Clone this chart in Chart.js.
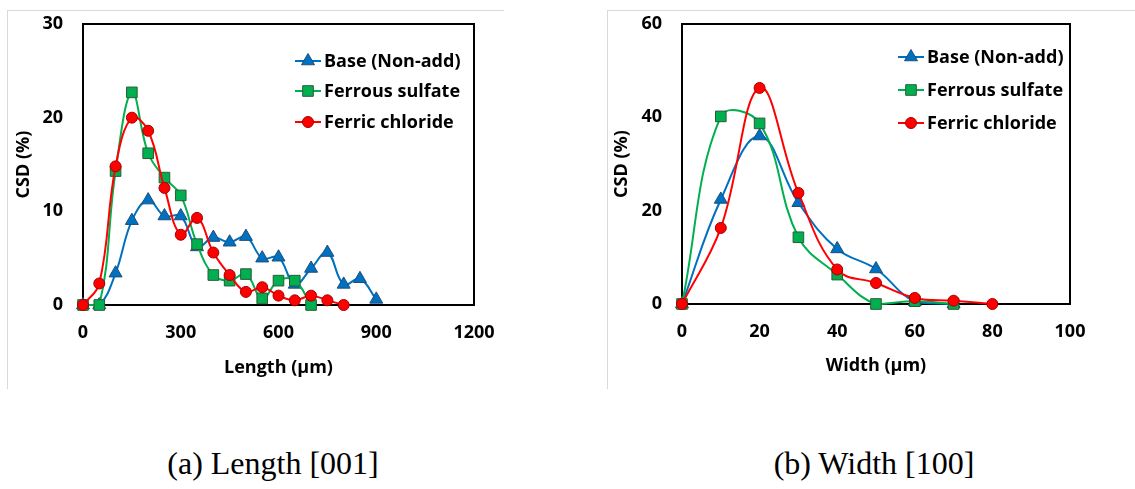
<!DOCTYPE html>
<html>
<head>
<meta charset="utf-8">
<script src="https://cdn.jsdelivr.net/npm/chart.js@4.4.1/dist/chart.umd.min.js"></script>
<style>
	body { margin: 0; background: #fff; width: 1135px; height: 489px; overflow: hidden; position: relative; }
	.frame { position: absolute; border-top: 1px solid #d9d9d9; border-left: 1px solid #d9d9d9; }
	canvas { position: absolute; }
	.caption { position: absolute; top: 445px; font-family: "Liberation Serif", serif; font-size: 32px; color: #000; white-space: nowrap; transform: translateX(-50%); }
</style>
</head>
<body>
<div class="frame" style="left:7px; top:10px; width:496px; height:378px;"></div>
<div class="frame" style="left:607px; top:10px; width:528px; height:378px;"></div>
<canvas id="lengthChart" width="495" height="377" style="left:8px; top:11px;"></canvas>
<canvas id="widthChart" width="527" height="377" style="left:608px; top:11px;"></canvas>
<div class="caption" style="left:273px;">(a) Length [001]</div>
<div class="caption" style="left:874px;">(b) Width [100]</div>
<script>
const seriesNames = ['Base (Non-add)', 'Ferrous sulfate', 'Ferric chloride'];

// (a) length distribution
const lengthXBase = [0, 50, 100, 150, 200, 250, 300, 350, 400, 450, 500, 550, 600, 650, 700, 750, 800, 850, 900];
const lengthBase = [0, 0, 3.4, 9.0, 11.2, 9.5, 9.5, 6.2, 7.2, 6.7, 7.3, 5.0, 5.1, 2.2, 3.9, 5.6, 2.2, 2.8, 0.6];
const lengthXFerrous = [0, 50, 100, 150, 200, 250, 300, 350, 400, 450, 500, 550, 600, 650, 700];
const lengthFerrous = [0, 0, 14.3, 22.7, 16.2, 13.6, 11.7, 6.5, 3.2, 2.6, 3.3, 0.7, 2.6, 2.6, 0];
const lengthXFerric = [0, 50, 100, 150, 200, 250, 300, 350, 400, 450, 500, 550, 600, 650, 700, 750, 800];
const lengthFerric = [0, 2.3, 14.8, 20.0, 18.6, 12.5, 7.5, 9.3, 5.6, 3.2, 1.4, 1.9, 1.0, 0.5, 1.0, 0.5, 0];
const lengthXTicks = [0, 300, 600, 900, 1200];
const lengthYTicks = [0, 10, 20, 30];

// (b) width distribution
const widthXBase = [0, 10, 20, 30, 40, 50, 60, 70];
const widthBase = [0, 22.4, 36.0, 21.7, 11.8, 7.5, 0.5, 0];
const widthXFerrous = [0, 10, 20, 30, 40, 50, 60, 70];
const widthFerrous = [0, 40.2, 38.7, 14.3, 6.3, 0, 0.6, 0];
const widthXFerric = [0, 10, 20, 30, 40, 50, 60, 70, 80];
const widthFerric = [0, 16.3, 46.3, 23.8, 7.4, 4.5, 1.3, 0.7, 0];
const widthXTicks = [0, 20, 40, 60, 80, 100];
const widthYTicks = [0, 20, 40, 60];

const lineColors = ['#0070c0', '#00b050', '#ff0000'];
const markerEdges = ['#1f4e79', '#2d5a36', '#a00000'];
const markerShapes = ['triangle', 'rect', 'circle'];
const markerSizes = [7.5, 7.5, 5.5];

const FONT = '"Open Sans", sans-serif';

function toPoints(xs, ys) {
	return xs.map((x, i) => ({ x: x, y: ys[i] }));
}

function makeDataset(i, xs, ys) {
	return {
		label: seriesNames[i],
		data: toPoints(xs, ys),
		borderColor: lineColors[i],
		backgroundColor: lineColors[i],
		borderWidth: 2,
		tension: 0.4,
		pointStyle: markerShapes[i],
		pointRadius: markerSizes[i],
		pointBackgroundColor: lineColors[i],
		pointBorderColor: markerEdges[i],
		pointBorderWidth: 1,
		clip: false,
		order: 3 - i
	};
}

// frame around the plot area
const boxPlugin = {
	id: 'plotBox',
	beforeDatasetsDraw(chart) {
		const a = chart.chartArea;
		const ctx = chart.ctx;
		ctx.save();
		ctx.strokeStyle = '#000';
		ctx.lineWidth = 2;
		ctx.strokeRect(a.left, a.top, a.right - a.left, a.bottom - a.top);
		ctx.restore();
	}
};

// excel-style legend inside the plot
const legendPlugin = {
	id: 'insideLegend',
	afterDraw(chart, args, opts) {
		const a = chart.chartArea;
		const ctx = chart.ctx;
		ctx.save();
		chart.data.datasets.forEach((ds, i) => {
			const y = a.top + opts.rows[i];
			const x1 = a.right - opts.lineStart;
			const x2 = x1 + 26;
			ctx.strokeStyle = ds.borderColor;
			ctx.lineWidth = 2;
			ctx.beginPath();
			ctx.moveTo(x1, y);
			ctx.lineTo(x2, y);
			ctx.stroke();
			ctx.fillStyle = ds.pointBackgroundColor;
			ctx.strokeStyle = ds.pointBorderColor;
			ctx.lineWidth = 1;
			Chart.helpers.drawPoint(ctx, { pointStyle: ds.pointStyle, radius: ds.pointRadius, borderWidth: 1 }, (x1 + x2) / 2, y);
			ctx.fillStyle = '#000';
			ctx.font = 'bold 18px ' + FONT;
			ctx.textBaseline = 'middle';
			ctx.textAlign = 'left';
			ctx.fillText(ds.label, x2 + 3, y + 1);
		});
		ctx.restore();
	}
};

function makeChart(id, datasets, xTitle, xTicks, yTicks, box) {
	const ctx = document.getElementById(id).getContext('2d');
	return new Chart(ctx, {
		type: 'line',
		data: { datasets: datasets },
		plugins: [boxPlugin, legendPlugin],
		options: {
			responsive: false,
			animation: false,
			devicePixelRatio: 1,
			layout: { padding: { top: box.padTop, right: box.padRight, left: 0, bottom: 0 } },
			plugins: {
				legend: { display: false },
				tooltip: { enabled: false },
				insideLegend: { rows: box.rows, lineStart: box.lineStart }
			},
			scales: {
				x: {
					type: 'linear',
					min: xTicks[0],
					max: xTicks[xTicks.length - 1],
					afterBuildTicks: scale => { scale.ticks = xTicks.map(v => ({ value: v })); },
					afterFit: scale => {
						scale.height = box.xHeight;
						scale.paddingLeft = 0;
						scale.paddingRight = 0;
					},
					grid: { display: false, drawTicks: false },
					border: { display: false },
					ticks: {
						color: '#000',
						padding: 17,
						font: { family: FONT, size: 18, weight: 'bold' },
						callback: v => String(v)
					},
					title: {
						display: true,
						text: xTitle,
						color: '#000',
						font: { family: FONT, size: 18, weight: 'bold' },
						padding: { top: 0, bottom: box.xTitlePad }
					}
				},
				y: {
					min: yTicks[0],
					max: yTicks[yTicks.length - 1],
					afterBuildTicks: scale => { scale.ticks = yTicks.map(v => ({ value: v })); },
					afterFit: scale => {
						scale.width = box.yWidth;
						scale.paddingTop = 0;
						scale.paddingBottom = 0;
					},
					grid: { display: false, drawTicks: false },
					border: { display: false },
					ticks: {
						color: '#000',
						padding: 20,
						font: { family: FONT, size: 18, weight: 'bold' },
						callback: v => String(v)
					},
					title: {
						display: true,
						text: 'CSD (%)',
						color: '#000',
						font: { family: FONT, size: 18, weight: 'bold' },
						padding: { top: box.yTitlePad, bottom: 0 }
					}
				}
			}
		}
	});
}

makeChart('lengthChart', [
	makeDataset(0, lengthXBase, lengthBase),
	makeDataset(1, lengthXFerrous, lengthFerrous),
	makeDataset(2, lengthXFerric, lengthFerric)
], 'Length (µm)', lengthXTicks, lengthYTicks, {
	padTop: 13, padRight: 29, xHeight: 83, yWidth: 75, xTitlePad: 9, yTitlePad: 5,
	rows: [37, 67, 98], lineStart: 179
});

makeChart('widthChart', [
	makeDataset(0, widthXBase, widthBase),
	makeDataset(1, widthXFerrous, widthFerrous),
	makeDataset(2, widthXFerric, widthFerric)
], 'Width (µm)', widthXTicks, widthYTicks, {
	padTop: 13, padRight: 65, xHeight: 84, yWidth: 74, xTitlePad: 11, yTitlePad: 3,
	rows: [33, 66, 99], lineStart: 172
});
</script>
</body>
</html>
